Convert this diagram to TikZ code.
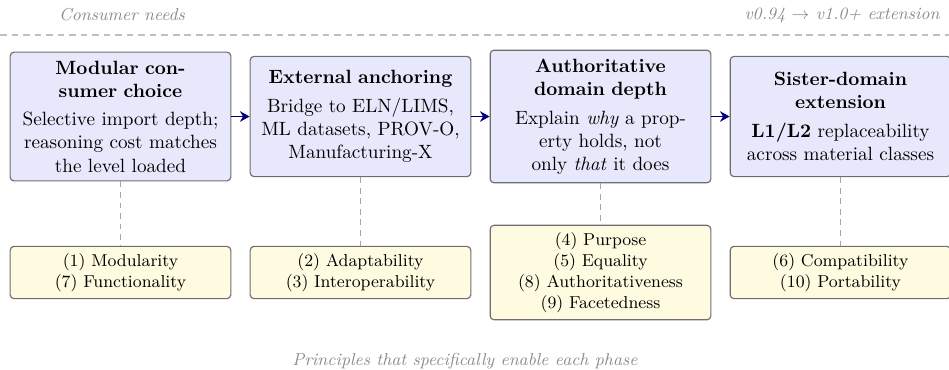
\documentclass[tikz,border=0pt]{standalone}
\usetikzlibrary{arrows.meta}
\definecolor{phasefill}{RGB}{232,232,252}
\definecolor{prinfill}{RGB}{255,251,224}
\definecolor{boxline}{RGB}{110,110,110}
\definecolor{navyarrow}{RGB}{0,0,128}
\definecolor{notegray}{RGB}{140,140,140}
\tikzset{
  phase/.style={draw=boxline, fill=phasefill, rounded corners=2pt, line width=0.6pt,
    text width=3.8cm, align=center, inner xsep=3.4pt, inner ysep=4.5pt, minimum height=2.2cm},
  prin/.style={draw=boxline, fill=prinfill, rounded corners=2pt, line width=0.6pt,
    text width=3.8cm, align=center, inner xsep=3.4pt, inner ysep=3.6pt, font=\small},
  flow/.style={navyarrow, line width=1pt, -{Stealth[length=5pt,width=5.5pt]}},
  link/.style={draw=black!35, line width=0.6pt, dash pattern=on 3pt off 2.5pt},
  septop/.style={draw=black!25, line width=0.6pt, dash pattern=on 3.5pt off 2.5pt},
  note/.style={text=notegray, font=\small\itshape, inner sep=0pt},
}
\begin{document}
\begin{tikzpicture}[x=0.5208pt, y=-0.5208pt]
\useasboundingbox (0,0) rectangle (949,369);
\clip (0,0) rectangle (949,369);

\node[note] (lneeds) at (122,15) {Consumer needs};
\node[note, anchor=east] (lver) at (940,15) {v0.94 $\rightarrow$ v1.0+ extension};
\coordinate (sepL) at (0,35);
\coordinate (sepR) at (949,35);
\draw[septop] (sepL) -- (sepR);

\node[phase] (b1) at (120.5,116.5) {\textbf{Modular con-}\\\textbf{sumer choice}\\[3pt]Selective import depth;\\reasoning cost matches\\the level loaded};
\node[phase] (b2) at (360.5,116.5) {\textbf{External anchoring}\\[3pt]Bridge to ELN/LIMS,\\ML datasets, PROV-O,\\Manufacturing-X};
\node[phase] (b3) at (600.5,116.5) {\textbf{Authoritative}\\\textbf{domain depth}\\[3pt]Explain \emph{why} a prop-\\erty holds, not\\only \emph{that} it does};
\node[phase] (b4) at (840.5,116.5) {\textbf{Sister-domain}\\\textbf{extension}\\[3pt]\textbf{L1/L2} replaceability\\across material classes};

\draw[flow] (b1.east) -- (b2.west);
\draw[flow] (b2.east) -- (b3.west);
\draw[flow] (b3.east) -- (b4.west);

\node[prin] (p1) at (120.5,272.5) {(1) Modularity\\(7) Functionality};
\node[prin] (p2) at (360.5,272.5) {(2) Adaptability\\(3) Interoperability};
\node[prin] (p3) at (600.5,272.5) {(4) Purpose\\(5) Equality\\(8) Authoritativeness\\(9) Facetedness};
\node[prin] (p4) at (840.5,272.5) {(6) Compatibility\\(10) Portability};

\draw[link] (b1.south) -- (p1.north);
\draw[link] (b2.south) -- (p2.north);
\draw[link] (b3.south) -- (p3.north);
\draw[link] (b4.south) -- (p4.north);

\node[note] (lprin) at (465,361) {Principles that specifically enable each phase};
\end{tikzpicture}
\end{document}
